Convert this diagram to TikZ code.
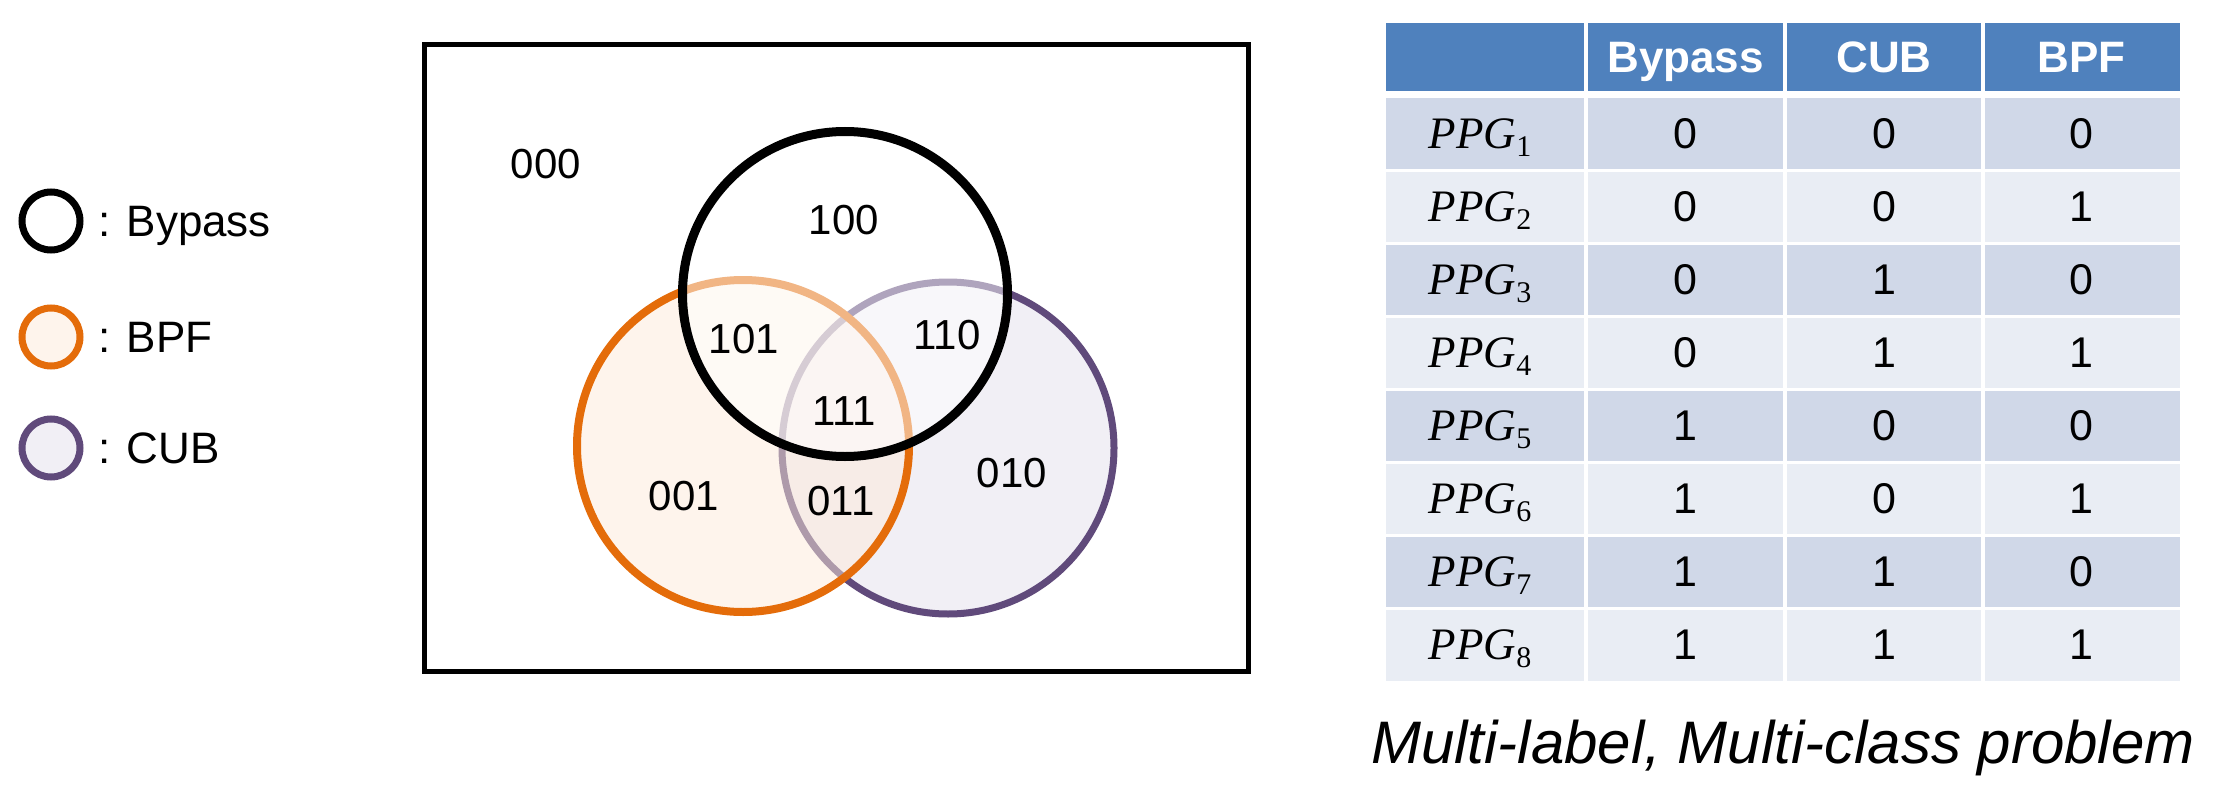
\documentclass[tikz,border=0pt]{standalone}
\usepackage{fontspec}
\setmainfont{Liberation Sans}
\newfontfamily\ppgfont{Liberation Serif}
\newcommand\fsz[1]{\fontsize{#1}{#1}\selectfont}
\newcommand\ppglabel[1]{{\ppgfont\fsz{45}\itshape PPG}\raisebox{-8pt}{\ppgfont\fsz{30}#1}}
\definecolor{hdr}{RGB}{79,129,189}
\definecolor{rowA}{RGB}{208,216,232}
\definecolor{rowB}{RGB}{233,237,244}
\definecolor{orS}{RGB}{228,108,10}
\definecolor{orF}{RGB}{253,234,218}
\definecolor{orL}{RGB}{254,244,236}
\definecolor{puS}{RGB}{96,74,123}
\definecolor{puF}{RGB}{241,239,245}
\tikzset{
  vlbl/.style={font=\fsz{42}, inner sep=0pt},
  leglbl/.style={font=\fsz{44}, inner sep=0pt, anchor=base west},
  hdrtxt/.style={font=\fsz{44}\bfseries, text=white, inner sep=0pt, anchor=base},
  celltxt/.style={font=\fsz{43}, inner sep=0pt, anchor=base},
  ppgtxt/.style={inner sep=0pt, anchor=base},
  sep/.style={white, line width=3.5pt}
}
\begin{document}
\begin{tikzpicture}[x=1pt,y=-1pt]
\useasboundingbox (0,0) rectangle (2219,797);

% ---- legend ----
\draw[black, fill=white, line width=7pt] (51,221) circle[radius=29pt];
\draw[orS, fill=orL, line width=7pt] (51,337) circle[radius=29pt];
\draw[puS, fill=puF, line width=7pt] (51,448) circle[radius=29pt];
\node[leglbl] (legA) at (98,236.7) {: Bypass};
\node[leglbl] (legB) at (98,352.8) {: BPF};
\node[leglbl] (legC) at (98,463.8) {: CUB};

% ---- Venn diagram ----
\draw[line width=5pt] (424.5,45) rectangle (1248,671);
\draw[puS, fill=puF, line width=7pt] (948,448) circle[radius=166pt];
\draw[orS, fill=orF, fill opacity=0.5, draw opacity=1, line width=8pt] (743,446) circle[radius=166pt];
\draw[black, fill=white, fill opacity=0.5, draw opacity=1, line width=9pt] (845,294) circle[radius=162.5pt];

\node[vlbl] (v000) at (546,164) {000};
\node[vlbl] (v100) at (844,220) {100};
\node[vlbl] (v101) at (744,339) {101};
\node[vlbl] (v110) at (947,335) {110};
\node[vlbl] (v111) at (844,411) {111};
\node[vlbl] (v001) at (684,496) {001};
\node[vlbl] (v011) at (841,501) {011};
\node[vlbl] (v010) at (1012,473) {010};

% ---- table ----
\fill[hdr] (1386,22.7) rectangle (2180,90.7);
\foreach \a/\b/\c [count=\i] in {0/0/0,0/0/1,0/1/0,0/1/1,1/0/0,1/0/1,1/1/0,1/1/1}{
  \pgfmathsetmacro\rt{98+72.9*(\i-1)}
  \pgfmathsetmacro\rb{\rt+72.9}
  \pgfmathsetmacro\bl{\rt+50.8}
  \ifodd\i \def\rc{rowA}\else\def\rc{rowB}\fi
  \fill[\rc] (1386,\rt) rectangle (2180,\rb);
  \node[ppgtxt] (p\i) at (1480,\bl) {\ppglabel{\i}};
  \node[celltxt] (a\i) at (1685.5,\bl) {\a};
  \node[celltxt] (b\i) at (1884,\bl) {\b};
  \node[celltxt] (c\i) at (2081.5,\bl) {\c};
}
\foreach \k in {1,...,7}{
  \draw[sep, line width=3pt] (1386,98+72.9*\k) -- (2180,98+72.9*\k);
}
\foreach \xx in {1586,1785,1983}{
  \draw[sep] (\xx,22) -- (\xx,91);
  \draw[sep] (\xx,98) -- (\xx,681.2);
}
\node[hdrtxt] (hA) at (1685.5,73) {Bypass};
\node[hdrtxt] (hB) at (1884,73) {CUB};
\node[hdrtxt] (hC) at (2081.5,73) {BPF};

\node[font=\fsz{60}\itshape, inner sep=0pt, anchor=base] (cap) at (1783,763) {Multi-label, Multi-class problem};
\end{tikzpicture}
\end{document}
